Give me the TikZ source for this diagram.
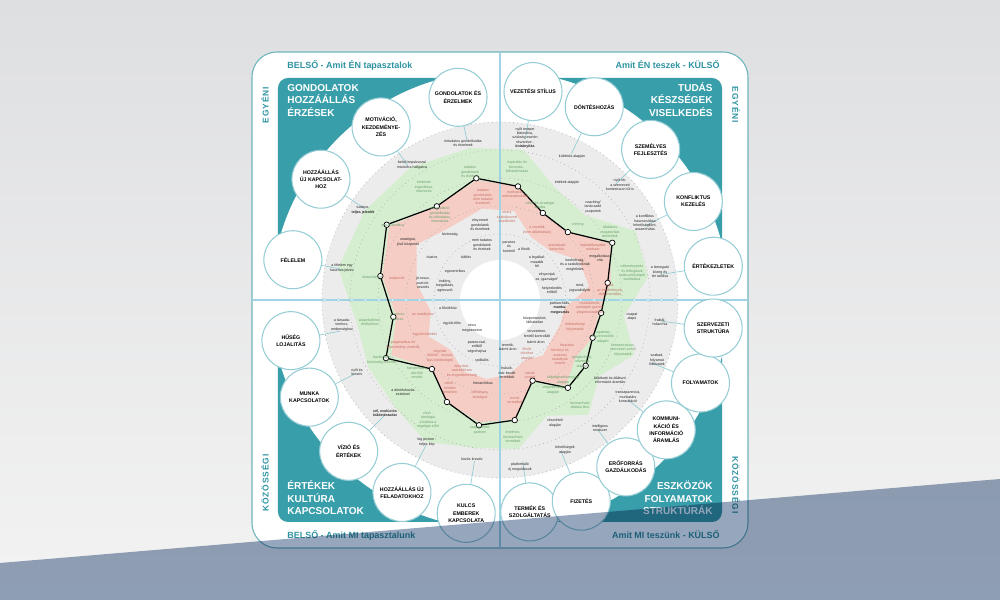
\documentclass[tikz,border=0pt]{standalone}
\usepackage{fontspec}
\setmainfont{Liberation Sans}
\newfontfamily\sidefont[LetterSpace=10]{Liberation Sans}
\usepackage{xcolor}
\definecolor{tealbox}{RGB}{55,158,170}
\definecolor{tealtext}{RGB}{46,148,163}
\definecolor{tealline}{RGB}{150,205,213}
\definecolor{cardline}{RGB}{110,180,190}
\definecolor{axisblue}{RGB}{160,212,228}
\definecolor{ringgray}{RGB}{236,236,236}
\definecolor{dotgray}{RGB}{175,175,175}
\definecolor{bandgreen}{RGB}{214,238,208}
\definecolor{bandred}{RGB}{246,205,197}
\definecolor{labgreen}{RGB}{104,160,104}
\definecolor{labred}{RGB}{196,110,98}
\definecolor{bgtop}{RGB}{222,223,225}
\definecolor{bgbottom}{RGB}{243,243,243}
\definecolor{slate}{RGB}{150,166,188}

\begin{document}
\begin{tikzpicture}[
    x=0.2mm, y=0.2mm,
    topic/.style={circle,draw=tealline,line width=0.6pt,fill=white,minimum size=11.6mm,
                  inner sep=0pt,align=center,font=\fontsize{3.0}{4.2}\selectfont\bfseries},
    lab/.style={align=center,inner sep=0pt,text=black!85,font=\fontsize{2.05}{2.5}\selectfont},
    labg/.style={lab,text=labgreen},
    labr/.style={lab,text=labred},
    quadtitle/.style={inner sep=0pt,text=white,font=\fontsize{5.7}{7.1}\selectfont\bfseries},
    header/.style={inner sep=0pt,text=tealtext,font=\fontsize{5.1}{6}\selectfont\bfseries},
    side/.style={inner sep=0pt,text=tealtext,font=\sidefont\fontsize{4.8}{5}\selectfont\bfseries},
    spoke/.style={draw=tealline,line width=0.4pt},
    profile/.style={draw=black,line width=0.7pt},
    vmark/.style={circle,draw=black,fill=white,line width=0.4pt,minimum size=1.1mm,inner sep=0pt},
    tickmark/.style={circle,draw=axisblue,fill=white,line width=0.3pt,minimum size=0.6mm,inner sep=0pt},
    ring/.style={draw=dotgray,dotted,line width=0.4pt},
    axisline/.style={draw=axisblue,line width=0.6pt}
]
    \useasboundingbox (-500,-300) rectangle (500,300);
    \shade[top color=bgtop,bottom color=bgbottom] (-500,-300) rectangle (500,300);

    % card and teal corners
    \draw[cardline,line width=0.6pt,fill=white,rounded corners=5mm] (-248,-248) rectangle (248,248);
    \begin{scope}
        \clip[rounded corners=2mm] (-222,-222) rectangle (222,222);
        \fill[tealbox,even odd rule] (-230,-230) rectangle (230,230) (0,0) circle[radius=229];
    \end{scope}

    % radar rings and bands
    \fill[ringgray] (0,0) circle[radius=178];
    \fill[bandgreen] (9:150) -- (27:152) -- (45:120) -- (63.8:125) -- (81:152) -- (101:155)
        -- (124:160) -- (146.4:162) -- (168.7:165) -- (189:145) -- (207:148) -- (225.4:150)
        -- (242.5:160) -- (260.5:150) -- (277:150) -- (292:125) -- (307.7:145) -- (322.5:125)
        -- (337.8:145) -- (352.7:125) -- cycle;
    \fill[bandred] (9:112) -- (27:124) -- (45:96) -- (63.8:97) -- (81:115) -- (101:122)
        -- (124:113) -- (146.4:133) -- (168.7:120) -- (189:105) -- (207:122) -- (225.4:97)
        -- (242.5:115) -- (260.5:124) -- (277:120) -- (292:87) -- (307.7:108) -- (322.5:95)
        -- (337.8:100) -- (352.7:100) -- cycle;
    \fill[ringgray] (9:90) -- (27:88) -- (45:70) -- (63.8:70) -- (81:90) -- (101:93)
        -- (124:88) -- (146.4:100) -- (168.7:85) -- (189:70) -- (207:80) -- (225.4:70)
        -- (242.5:80) -- (260.5:80) -- (277:75) -- (292:65) -- (307.7:70) -- (322.5:65)
        -- (337.8:65) -- (352.7:65) -- cycle;
    \foreach \rr in {66,94,122,150,178}
        \draw[ring] (0,0) circle[radius=\rr];
    \fill[white] (0,0) circle[radius=40];

    % axes
    \coordinate (axN) at (0,248);
    \coordinate (axS) at (0,-248);
    \coordinate (axW) at (-248,0);
    \coordinate (axE) at (248,0);
    \draw[axisline] (axN) -- (axS);
    \draw[axisline] (axW) -- (axE);
    \foreach \k in {1,...,10} {
        \node[tickmark] (tw\k) at ({-40-13.5*\k},0) {};
        \node[tickmark] (te\k) at ({40+13.5*\k},0) {};
    }

    % topic circles
    \foreach \a/\r/\t [count=\i] in {
        101.7/207/{GONDOLATOK ÉS\\ÉRZELMEK},
        124.5/210/{MOTIVÁCIÓ,\\KEZDEMÉNYE-\\ZÉS},
        146/216/{HOZZÁÁLLÁS\\ÚJ KAPCSOLAT-\\HOZ},
        169/211/{FÉLELEM},
        191/213/{HŰSÉG\\LOJALITÁS},
        207/214/{MUNKA\\KAPCSOLATOK},
        225/214/{VÍZIÓ ÉS\\ÉRTÉKEK},
        243/216/{HOZZÁÁLLÁS ÚJ\\FELADATOKHOZ},
        261/216/{KULCS\\EMBEREK\\KAPCSOLATA},
        278/214/{TERMÉK ÉS\\SZOLGÁLTATÁS},
        292/217/{FIZETÉS},
        307/209/{ERŐFORRÁS\\GAZDÁLKODÁS},
        322/211/{KOMMUNI-\\KÁCIÓ ÉS\\INFORMÁCIÓ\\ÁRAMLÁS},
        337.5/217/{FOLYAMATOK},
        352.5/215/{SZERVEZETI\\STRUKTÚRA},
        9/216/{ÉRTÉKEZLETEK},
        27/217/{KONFLIKTUS\\KEZELÉS},
        45/213/{SZEMÉLYES\\FEJLESZTÉS},
        64/215/{DÖNTÉSHOZÁS},
        81/211/{VEZETÉSI STÍLUS}} {
        \coordinate (s\i) at (\a:163);
        \node[topic] (c\i) at (\a:\r) {\t};
        \draw[spoke] (c\i) -- (s\i);
    }

    % profile
    \foreach \a/\r [count=\i] in {9/109,27/126,45/96,63.8/97,81/115,101/124,124/113,146.4/136,
        168.7/122,189/108,207/128,225.4/97,242.5/115,260.5/127,277/121,292/87,307.7/111,
        322.5/108,337.8/100,352.7/102}
        \node[vmark] (v\i) at (\a:\r) {};
    \draw[profile] (v1) -- (v2) -- (v3) -- (v4) -- (v5) -- (v6) -- (v7) -- (v8) -- (v9) -- (v10)
        -- (v11) -- (v12) -- (v13) -- (v14) -- (v15) -- (v16) -- (v17) -- (v18) -- (v19) -- (v20) -- (v1);

    % scale texts
    \foreach \x/\y/\s/\t [count=\i] in {
        -37/157/lab/{öntudatos gondolkodás\\és érzelmek},
        -88/135/lab/{belső impulzusra/\\intuícióra hallgatva},
        -30/128/labg/{tudatos\\gondolatok\\és érzések},
        -76/113/labg/{emberek\\inspirálása,\\elismerés},
        -17/103/labr/{tudatos\\gondolatok,\\nem tudatos\\érzelmek},
        -60/85/labg/{sikert alkotó\\gondolkodás\\és céltudatos,\\innovációs},
        -137/90/lab/{tudatos,\\\textbf{teljes jelenlét}},
        -20/75/lab/{elnyomott\\gondolatok\\és érzelmek},
        -107/75/labg/{entuziasztikus},
        -50/65/lab/{biztonság},
        -92/58/lab/{stratégiai,\\jövő központú},
        -18/55/lab/{nem tudatos\\gondolatok\\és érzések},
        -68/43/lab/{óvatos},
        -34/43/lab/{túlélés},
        -158/32/lab/{a félelem egy\\hasznos jelzés},
        -45/28/lab/{egocentrikus},
        -128/23/labg/{elutasítástól},
        -103/22/labr/{kudarctól},
        -77/17/lab/{jó-rossz,\\pozíció-\\vesztés},
        -55/14/lab/{önkény,\\megalázás,\\agresszió},
        25/162/lab/{nyílt terepet\\biztosítva,\\szükség esetén\\résztvéve -\\\textbf{önirányítás}},
        72/143/lab/{küldetés alapján},
        17/133/labg/{inspirálás és\\bevonás -\\felhatalmazás},
        67/117/lab/{értékek alapján},
        120/115/lab/{nyílt tér,\\a szervezeti\\kontextuson túl is},
        15/106/labr/{motiváció\\mérőszámokkal},
        40/95/labg/{célok és stratégiai\\átadás},
        93/93/lab/{coaching/\\tanácsadó\\csoportok},
        7/83/labr/{elvárt,\\szabályozott\\viselkedés},
        145/77/lab/{a konfliktus\\hasznosítása\\lehetőségként,\\asszertivitás},
        78/75/labg/{tréning},
        37/70/labr/{a vezetők\\(nem átláthatóan)},
        110/68/labg/{általános\\magatartási\\kontrollok},
        57/53/labr/{utasítások/\\betanítás},
        93/53/labr/{leghatékonyabb\\módszer},
        100/42/lab/{megalkotása,\\vita},
        9/53/lab/{parancs\\és\\kontroll},
        24/51/lab/{a főnök},
        37/38/lab/{a legalkal-\\masabb\\fél},
        75/35/lab/{konkrétság,\\és a szabályoknak\\megfelelés},
        132/27/labg/{véleményezés\\és felfogások\\szakszerűségek\\facilitálása},
        160/28/lab/{a támogató\\közeg és\\tér tartása},
        47/23/lab/{elnyomjuk\\az „igazságot”},
        80/12/lab/{rend,\\jogszabályok},
        52/10/lab/{helyezkedés\\erőből},
        110/10/labr/{rend,\\az eredmények,\\dokumentálás},
        60/-8/lab/{patriarchális,\\\textbf{munka-}\\\textbf{megosztás}},
        90/-8/labr/{munkakörök,\\szerepek szerint,\\proporcionálisan},
        132/-17/lab/{csapat\\alapú},
        160/-22/lab/{fraktál,\\holarchia},
        35/-20/lab/{központosított,\\láthatatlan},
        75/-27/labr/{érdekeltségi\\folyamatok},
        37/-34/lab/{tervezetten,\\fentről kontrollált},
        103/-37/labg/{rugalmas,\\önszerveződő,\\adaptív},
        36/-42/lab/{bármi áron},
        67/-45/labr/{hivatalos},
        123/-50/labg/{konszenzusos,\\szervezet szintű\\folyamatok},
        60/-57/labr/{törvényi és\\szakmai\\szabályok\\szerint},
        157/-60/lab/{szabad,\\folyamat\\hálózatok},
        82/-62/labg/{megbízható,\\informált\\alapon},
        30/-75/labr/{sávok\\szerint},
        63/-80/labg/{költséghatékonyság\\alapján},
        110/-80/lab/{átlátható és átlátszó\\információ áramlás},
        53/-90/labg/{elégedettség\\alapján},
        128/-97/lab/{transzparencia,\\munkatárs\\konzultáció},
        15/-100/labr/{trendi\\termékek},
        80/-105/labg/{fenntartható\\ellátási lánc},
        13/-137/labg/{értelmes,\\fenntartható\\termékek},
        55/-123/lab/{részvételi\\alapján},
        100/-128/lab/{intelligens\\rendszer},
        65/-150/lab/{lehetőségek\\alapján},
        20/-167/lab/{platformáló\\új megoldások},
        8/-47/lab/{termék,\\bármi áron},
        27/-54/labr/{főnök\\döntése\\alapján},
        7/-73/lab/{mások,\\már bevált\\termékek},
        -52/-8/lab/{a főnökhöz},
        -158/-25/lab/{a társada-\\lomhoz,\\emberséghez},
        -130/-22/labg/{alapelvekhez,\\értékekhez},
        -102/-17/labg/{a szerve-\\zethez},
        -77/-15/labr/{az osztályhoz},
        -48/-24/lab/{együtt-élés},
        -28/-28/lab/{nincs\\megnevezve},
        -75/-35/labr/{együttműködés},
        -23/-47/lab/{paranccsal,\\erőből\\végrehajtva},
        -97/-45/labr/{pragmatikus és\\teljesítmény vezérelt},
        -118/-60/labg/{barátságos\\közösség orientált},
        -60/-56/labr/{dogmák\\felülről - hosszú\\távú kötöttségek},
        -18/-60/lab/{radikális},
        -143/-72/lab/{nyílt és\\kreatív},
        -83/-73/labg/{hierarchikus,\\alá-fölé\\rendelt},
        -38/-71/labr/{irányított -\\szerződéses\\és engedelmesség},
        -17/-83/lab/{hierarchikus},
        -97/-92/lab/{a döntéshozás\\eszközei},
        -50/-88/labr/{célok -\\minden\\területen},
        -20/-95/labr/{célirányos,\\stratégiai},
        -115/-113/lab/{\textbf{cél, evolúciós}\\\textbf{küldetéstudat}},
        -72/-120/labg/{vízió -\\ideológia\\a kultúra a\\stratégia előtt},
        -20/-130/labg/{csapatszerű,\\partneri},
        -73/-142/lab/{big picture -\\teljes kép},
        -28/-159/lab/{közös kreatív}}
        \node[\s] (t\i) at (\x,\y) {\t};

    % quadrant titles and margins
    \node[quadtitle,anchor=north west,align=left] (qTL) at (-213,216) {GONDOLATOK\\HOZZÁÁLLÁS\\ÉRZÉSEK};
    \node[quadtitle,anchor=north east,align=right] (qTR) at (213,218) {TUDÁS\\KÉSZSÉGEK\\VISELKEDÉS};
    \node[quadtitle,anchor=south west,align=left] (qBL) at (-213,-215) {ÉRTÉKEK\\KULTÚRA\\KAPCSOLATOK};
    \node[quadtitle,anchor=south east,align=right] (qBR) at (213,-215) {ESZKÖZÖK\\FOLYAMATOK\\STRUKTÚRÁK};
    \node[header,anchor=base west] (hTL) at (-213,231) {BELSŐ - Amit ÉN tapasztalok};
    \node[header,anchor=base east] (hTR) at (220,231) {Amit ÉN teszek - KÜLSŐ};
    \node[header,anchor=base west] (hBL) at (-213,-238) {BELSŐ - Amit MI tapasztalunk};
    \node[header,anchor=base east] (hBR) at (220,-238) {Amit MI teszünk - KÜLSŐ};
    \node[side,rotate=90] (sTL) at (-235,195) {EGYÉNI};
    \node[side,rotate=-90] (sTR) at (236,195) {EGYÉNI};
    \node[side,rotate=90] (sBL) at (-235,-183) {KÖZÖSSÉGI};
    \node[side,rotate=-90] (sBR) at (236,-185) {KÖZÖSSÉGI};

    % slanted band
    \begin{scope}[blend mode=multiply]
        \fill[slate] (-500,-263) -- (500,-179) -- (500,-300) -- (-500,-300) -- cycle;
    \end{scope}
\end{tikzpicture}
\end{document}
